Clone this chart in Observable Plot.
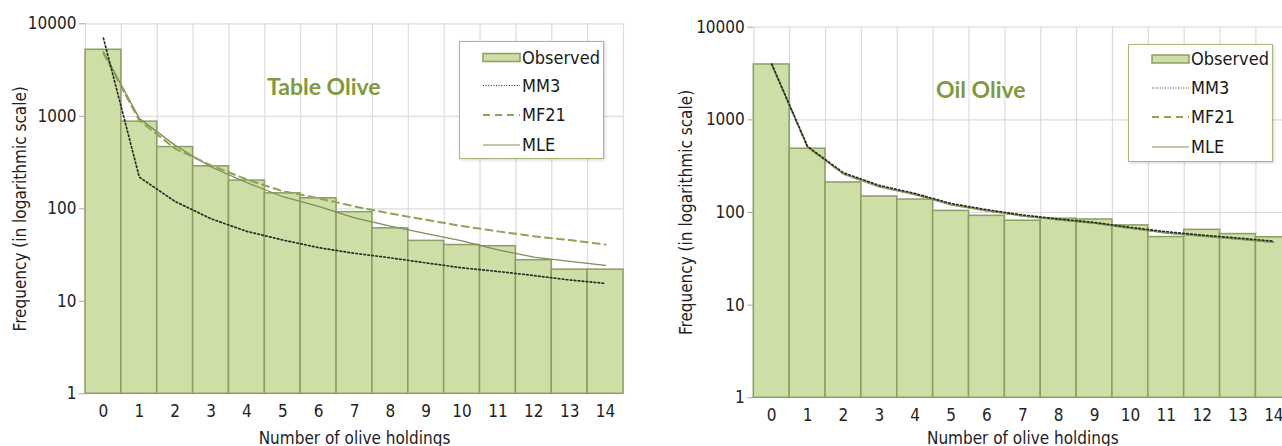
<!DOCTYPE html>
<html>
<head>
<meta charset="utf-8">
<script src="https://cdn.jsdelivr.net/npm/d3@7"></script>
<script src="https://cdn.jsdelivr.net/npm/@observablehq/plot@0.6"></script>
<style>
  html, body { margin: 0; padding: 0; background: #fff; }
  body { width: 1282px; height: 446px; overflow: hidden; position: relative; }
  .panel { position: absolute; top: 0; }
  .panel svg { max-width: none !important; }
  .title { position: absolute; font-family: Lato, "Open Sans", sans-serif; font-weight: 700; font-size: 23px; color: #7f9a3c; white-space: nowrap; line-height: 1; }
  .legend { position: absolute; background: #fff; border: 1.5px solid #a6b97a; box-shadow: 1px 1px 3px rgba(0,0,0,0.18); box-sizing: border-box; }
</style>
</head>
<body>
<script>
const categories = [0, 1, 2, 3, 4, 5, 6, 7, 8, 9, 10, 11, 12, 13, 14];
const yTicks = [1, 10, 100, 1000, 10000];
const seriesNames = ["Observed", "MM3", "MF21", "MLE"];

const tableObserved = [5240, 875, 465, 288, 202, 147, 130, 92, 61.5, 45, 40.6, 39.4, 27.8, 22, 22];
const tableMM3 = [7000, 220, 120, 78, 57, 46, 38, 33, 29.5, 26, 23, 21, 19, 17, 15.6];
const tableMF21 = [4800, 900, 447, 295, 207, 155, 130, 106, 89, 76, 65, 57, 50.5, 46, 41];
const tableMLE = [5000, 950, 485, 283, 192, 135, 106, 80, 65, 54, 45, 36, 30, 27, 24.5];

const oilObserved = [3960, 488, 211, 149, 138, 104, 92, 81.5, 85.7, 84, 72.6, 54.3, 65, 58.5, 54];
const oilMM3 = [4000, 515, 268, 196, 160, 125, 107, 94, 85, 78, 69, 62, 57, 53, 49];
const oilMF21 = [3960, 505, 262, 190, 157, 122, 105, 92, 84, 77, 68, 60.5, 56, 52, 48];
const oilMLE = [3960, 508, 260, 189, 156, 121, 104, 91.5, 83.5, 76.5, 67.5, 60, 55.5, 51.5, 47.5];

const FONT = '"Liberation Sans Narrow", "DejaVu Sans Condensed", "Roboto Condensed", "Liberation Sans", sans-serif';
const BAR_FILL = "#cddea6", BAR_STROKE = "#8c9e62";
const MM3_COLOR = "#2a2a2a", MF21_COLOR = "#8ea455", MLE_COLOR = "#7e8d5b";

function panel(opts) {
  const rows = categories.map((c, i) => ({c, obs: opts.obs[i], mm3: opts.mm3[i], mf21: opts.mf21[i], mle: opts.mle[i]}));
  const bounds = categories.map(c => c - 0.5).concat([categories[categories.length - 1] + 0.5]);
  return Plot.plot({
    width: opts.width,
    height: 446,
    marginLeft: opts.marginLeft,
    marginRight: opts.marginRight,
    marginTop: opts.marginTop,
    marginBottom: opts.marginBottom,
    style: {fontFamily: FONT, fontSize: "17px", color: "#222", background: "transparent", overflow: "visible", maxWidth: "none"},
    x: {domain: [bounds[0], bounds[bounds.length - 1]]},
    y: {type: "log", domain: [yTicks[0], yTicks[yTicks.length - 1]]},
    marks: [
      Plot.ruleY(yTicks.slice(1), {stroke: "#dcdcdc", strokeWidth: 1.2}),
      Plot.ruleX(bounds, {stroke: "#dcdcdc", strokeWidth: 1.2}),
      Plot.rectY(rows, {x1: d => d.c - 0.5, x2: d => d.c + 0.5, y1: yTicks[0], y2: "obs", fill: BAR_FILL, stroke: BAR_STROKE, strokeWidth: 1.5}),
      Plot.line(rows, {x: "c", y: "mle", stroke: MLE_COLOR, strokeWidth: 1.3}),
      Plot.line(rows, {x: "c", y: "mf21", stroke: MF21_COLOR, strokeWidth: 2, strokeDasharray: "7,5"}),
      Plot.line(rows, {x: "c", y: "mm3", stroke: MM3_COLOR, strokeWidth: 1.7, strokeDasharray: "1.6,2.4"}),
      Plot.axisX(categories, {tickSize: 0, tickPadding: 11, fontSize: 17, label: "Number of olive holdings", labelAnchor: "center", labelArrow: "none", labelOffset: opts.xLabelOffset}),
      Plot.axisY(yTicks, {tickFormat: d => String(d), tickSize: 6, tickPadding: 3, stroke: "#a8a8a8", fontSize: 17, label: "Frequency (in logarithmic scale)", labelAnchor: "center", labelArrow: "none", labelOffset: opts.labelOffset})
    ]
  });
}

function addPanel(left, opts) {
  const div = document.createElement("div");
  div.className = "panel";
  div.style.left = left + "px";
  div.style.width = opts.width + "px";
  div.style.height = "446px";
  div.appendChild(panel(opts));
  document.body.appendChild(div);
}

function addTitle(text, left, top) {
  const t = document.createElement("div");
  t.className = "title";
  t.textContent = text;
  t.style.left = left + "px";
  t.style.top = top + "px";
  document.body.appendChild(t);
}

function addLegend(left, top, w, h, rowY) {
  const box = document.createElement("div");
  box.className = "legend";
  box.style.left = left + "px"; box.style.top = top + "px";
  box.style.width = w + "px"; box.style.height = h + "px";
  document.body.appendChild(box);
  const svg = d3.select(box).append("svg").attr("width", w).attr("height", h)
    .style("position", "absolute").style("left", "-1.5px").style("top", "-1.5px");
  seriesNames.forEach((name, i) => {
    const y = rowY[i];
    const g = svg.append("g");
    if (name === "Observed") {
      g.append("rect").attr("x", 24).attr("y", y - 4).attr("width", 37).attr("height", 8)
        .attr("fill", BAR_FILL).attr("stroke", BAR_STROKE).attr("stroke-width", 1.5);
    } else {
      const line = g.append("line").attr("x1", 24).attr("x2", 61).attr("y1", y).attr("y2", y);
      if (name === "MM3") line.attr("stroke", MM3_COLOR).attr("stroke-width", 1.2).attr("stroke-dasharray", "1,1.6");
      if (name === "MF21") line.attr("stroke", MF21_COLOR).attr("stroke-width", 1.8).attr("stroke-dasharray", "7,5");
      if (name === "MLE") line.attr("stroke", MLE_COLOR).attr("stroke-width", 1.2);
    }
    g.append("text").attr("x", 63).attr("y", y).attr("dy", "0.35em")
      .style("font-family", FONT).style("font-size", "18px").attr("fill", "#1a1a1a").text(name);
  });
}

addPanel(0, {obs: tableObserved, mm3: tableMM3, mf21: tableMF21, mle: tableMLE,
  width: 641, marginLeft: 85, marginRight: 18, marginTop: 23.3, marginBottom: 52.7, labelOffset: 72, xLabelOffset: 50});
addPanel(660, {obs: oilObserved, mm3: oilMM3, mf21: oilMF21, mle: oilMLE,
  width: 652, marginLeft: 93.3, marginRight: 20.7, marginTop: 26.7, marginBottom: 48.7, labelOffset: 74, xLabelOffset: 46});

addTitle("Table Olive", 267, 75);
addTitle("Oil Olive", 936, 78);

addLegend(459, 41, 145, 118, [16.5, 44.5, 74, 104]);
addLegend(1128, 44, 145, 118, [15, 44, 73, 103]);
</script>
</body>
</html>
